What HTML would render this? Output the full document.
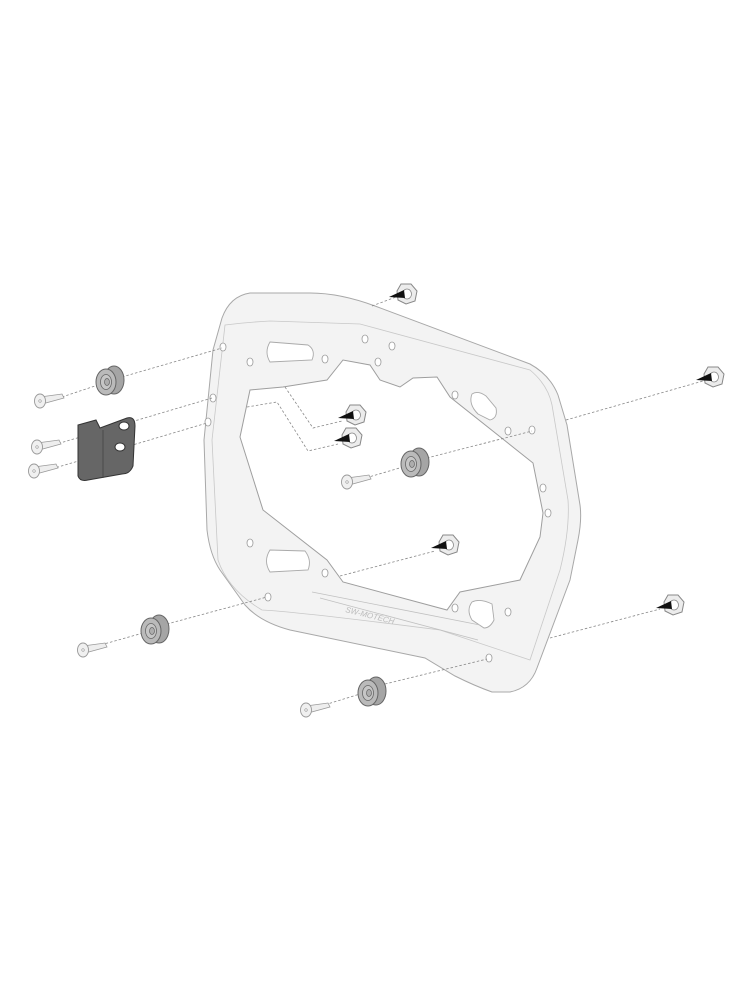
<!DOCTYPE html>
<html><head><meta charset="utf-8"><style>html,body{margin:0;padding:0;background:#fff}svg{display:block}</style></head>
<body>
<svg width="750" height="1000" viewBox="0 0 750 1000" xmlns="http://www.w3.org/2000/svg">
<defs>
<g id="nut">
  <polygon points="-10,-3 -6,-10 4,-10 10,-3 8,7 -1,10 -9,6" fill="#ececec" stroke="#888" stroke-width="1"/>
  <ellipse cx="0" cy="0" rx="4.5" ry="5" fill="#fff" stroke="#888" stroke-width="0.8"/>
  <polygon points="-18,3 -3,-4 -2,4" fill="#111"/>
</g>
<g id="spacer">
  <ellipse cx="6" cy="-1" rx="10" ry="14" fill="#a5a5a5" stroke="#666" stroke-width="1"/>
  <ellipse cx="-2" cy="1" rx="10" ry="13" fill="#bababa" stroke="#666" stroke-width="1"/>
  <ellipse cx="-2" cy="1" rx="5.5" ry="7.5" fill="#c6c6c6" stroke="#666" stroke-width="0.8"/>
  <ellipse cx="-1" cy="1" rx="2.5" ry="3.5" fill="#adadad" stroke="#666" stroke-width="0.7"/>
</g>
<g id="screw">
  <polygon points="0,-3 22,-6 24,-2 2,4" fill="#eee" stroke="#999" stroke-width="0.8"/>
  <ellipse cx="0" cy="1" rx="5.5" ry="7" fill="#f0f0f0" stroke="#999" stroke-width="0.9"/>
  <circle cx="0" cy="1" r="1.3" fill="none" stroke="#999" stroke-width="0.6"/>
</g>
</defs>

<!-- frame -->
<path d="M222,318 Q230,296 250,293 L310,293 Q340,293 375,306 L530,364 Q550,375 558,395 L567,425 L580,505 Q582,520 578,540 L570,580 L537,668 Q530,688 510,692 L492,692 Q475,686 455,676 L425,658 Q300,632 290,630 Q260,622 245,605 L220,570 Q210,555 207,530 L204,440 L213,350 Z" fill="#f3f3f3" stroke="#a8a8a8" stroke-width="1"/>
<path d="M225,325 Q250,322 270,321 L360,324 L530,370 Q548,385 552,405 L568,500 Q570,530 560,570 L530,660 L440,630 Q300,612 262,610 Q228,590 218,560 L212,440 Z" fill="none" stroke="#c8c8c8" stroke-width="0.8"/>
<path d="M250,390 L283,387 L327,380 L343,360 L370,365 L380,380 L400,387 L413,378 L437,377 L450,397 L533,463 L543,513 L540,537 L520,580 L460,592 L447,610 L343,582 L327,560 L263,510 L240,437 Z" fill="#fff" stroke="#9e9e9e" stroke-width="1"/>
<g fill="#fff" stroke="#aaa" stroke-width="0.9">
  <path d="M270,342 L308,345 Q316,350 312,360 L270,362 Q264,352 270,342 Z"/>
  <path d="M472,394 Q478,390 486,396 L496,408 Q498,418 490,420 L478,414 Q468,404 472,394 Z"/>
  <path d="M270,550 L305,551 Q312,560 308,570 L270,572 Q263,561 270,550 Z"/>
  <path d="M472,602 Q480,598 492,604 L494,620 Q490,628 484,628 L472,620 Q466,610 472,602 Z"/>
</g>
<g fill="#fff" stroke="#999" stroke-width="0.8">
  <ellipse cx="223" cy="347" rx="3" ry="4"/><ellipse cx="213" cy="398" rx="3" ry="4"/>
  <ellipse cx="208" cy="422" rx="3" ry="4"/><ellipse cx="250" cy="362" rx="3" ry="4"/>
  <ellipse cx="325" cy="359" rx="3" ry="4"/><ellipse cx="365" cy="339" rx="3" ry="4"/>
  <ellipse cx="392" cy="346" rx="3" ry="4"/><ellipse cx="378" cy="362" rx="3" ry="4"/>
  <ellipse cx="455" cy="395" rx="3" ry="4"/><ellipse cx="508" cy="431" rx="3" ry="4"/>
  <ellipse cx="532" cy="430" rx="3" ry="4"/><ellipse cx="543" cy="488" rx="3" ry="4"/>
  <ellipse cx="548" cy="513" rx="3" ry="4"/><ellipse cx="250" cy="543" rx="3" ry="4"/>
  <ellipse cx="325" cy="573" rx="3" ry="4"/><ellipse cx="268" cy="597" rx="3" ry="4"/>
  <ellipse cx="455" cy="608" rx="3" ry="4"/><ellipse cx="508" cy="612" rx="3" ry="4"/>
  <ellipse cx="489" cy="658" rx="3" ry="4"/>
</g>
<g stroke="#c0c0c0" stroke-width="0.8" fill="none">
  <line x1="312" y1="592" x2="480" y2="625"/><line x1="320" y1="598" x2="478" y2="640"/>
</g>
<text x="345" y="612" font-family="Liberation Sans, sans-serif" font-size="8" font-style="italic" fill="#bbb" transform="rotate(14 345 612)">SW-MOTECH</text>

<g fill="none" stroke="#888" stroke-width="0.8" stroke-dasharray="2.5,2">
  <line x1="372" y1="306" x2="396" y2="297"/>
  <line x1="566" y1="420" x2="703" y2="381"/>
  <line x1="62" y1="397" x2="98" y2="385"/>
  <line x1="122" y1="377" x2="222" y2="348"/>
  <line x1="50" y1="446" x2="212" y2="398"/>
  <line x1="48" y1="470" x2="207" y2="423"/>
  <polyline points="285,387 313,428 342,421"/>
  <polyline points="247,407 277,402 308,451 338,444"/>
  <line x1="362" y1="479" x2="403" y2="467"/>
  <line x1="427" y1="458" x2="532" y2="431"/>
  <line x1="340" y1="576" x2="435" y2="551"/>
  <line x1="97" y1="646" x2="143" y2="633"/>
  <line x1="167" y1="624" x2="267" y2="597"/>
  <line x1="321" y1="706" x2="360" y2="694"/>
  <line x1="385" y1="684" x2="487" y2="659"/>
  <line x1="550" y1="638" x2="660" y2="609"/>
</g>

<!-- bracket -->
<path d="M78,425 L96,420 L100,428 L127,418 Q135,416 135,426 L133,466 Q130,474 122,474 L88,480 Q80,482 78,476 Z" fill="#666" stroke="#333" stroke-width="1"/>
<line x1="103" y1="430" x2="103" y2="478" stroke="#444" stroke-width="0.8"/>
<ellipse cx="124" cy="426" rx="5" ry="4" fill="#fff" stroke="#333"/>
<ellipse cx="120" cy="447" rx="5" ry="4" fill="#fff" stroke="#333"/>

<use href="#screw" x="40" y="400"/>
<use href="#screw" x="37" y="446"/>
<use href="#screw" x="34" y="470"/>
<use href="#screw" x="347" y="481"/>
<use href="#screw" x="83" y="649"/>
<use href="#screw" x="306" y="709"/>

<use href="#spacer" x="108" y="381"/>
<use href="#spacer" x="413" y="463"/>
<use href="#spacer" x="153" y="630"/>
<use href="#spacer" x="370" y="692"/>

<use href="#nut" x="407" y="294"/>
<use href="#nut" x="714" y="377"/>
<use href="#nut" x="356" y="415"/>
<use href="#nut" x="352" y="438"/>
<use href="#nut" x="449" y="545"/>
<use href="#nut" x="674" y="605"/>
</svg>
</body></html>
